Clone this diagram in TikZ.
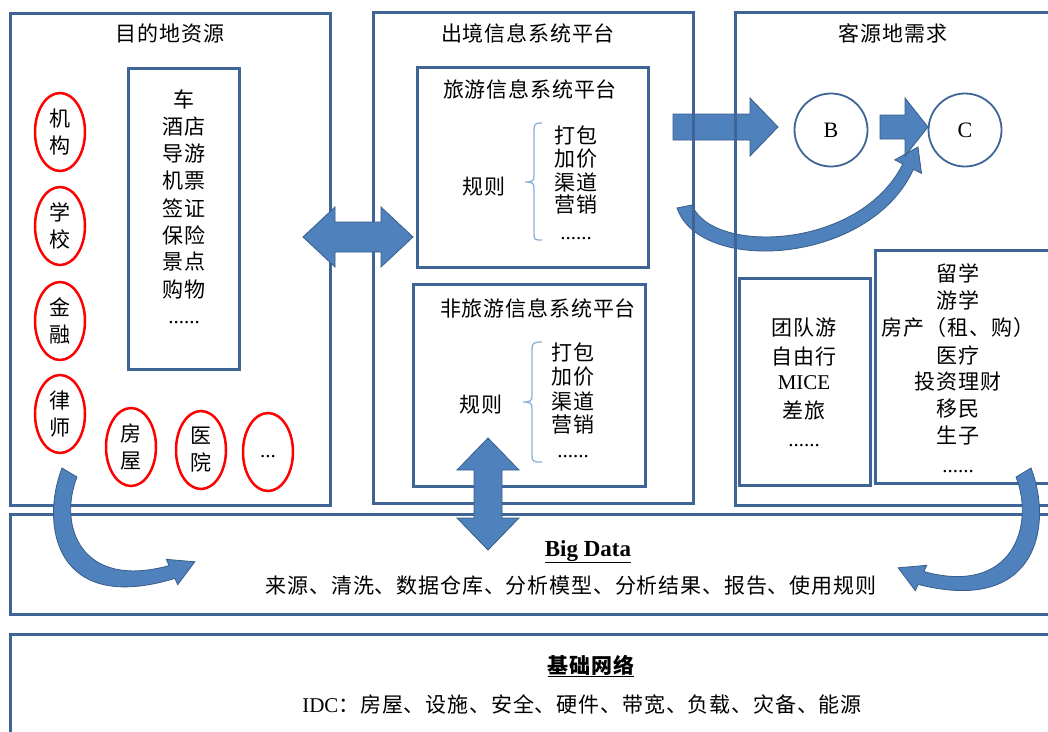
\documentclass[tikz,border=0pt]{standalone}
\usepackage{fontspec}
\setmainfont{Liberation Serif}
\newfontfamily\cjk[LetterSpace=4]{Noto Sans CJK SC}
\usetikzlibrary{shapes.geometric,fit}
\definecolor{boxblue}{RGB}{62,101,150}
\definecolor{arrfill}{RGB}{79,129,189}
\definecolor{arredge}{RGB}{56,93,138}
\definecolor{bracecol}{RGB}{141,176,216}
\newcommand\zhf{\cjk\fontsize{21pt}{27pt}\selectfont}
\newcommand\enf{\rmfamily\fontsize{21pt}{27pt}\selectfont}
\begin{document}
\begin{tikzpicture}[x=1pt,y=-1pt,
  box/.style={draw=boxblue,line width=3pt,inner sep=0pt,fit={#1}},
  tz/.style={font=\zhf,inner sep=0pt},
  en/.style={font=\enf,inner sep=0pt},
  ell/.style={ellipse,draw=red,line width=2.5pt,minimum width=50pt,minimum height=78pt,inner sep=0pt,font=\zhf,align=center},
  arr/.style={fill=arrfill,draw=arredge,line width=0.8pt},
  circ/.style={circle,draw=boxblue,line width=1.8pt,minimum size=73pt,inner sep=0pt,font=\rmfamily\fontsize{22pt}{26pt}\selectfont},
  bracestyle/.style={draw=bracecol,line width=1.3pt}]
\path[use as bounding box] (0,0) rectangle (1048,731);
\fill[white] (0,0) rectangle (1048,731);
\clip (0,0) rectangle (1048,731);

% arrows lying under box lines
\draw[arr] (673,114) -- (750,114) -- (750,98) -- (778,127) -- (750,156) -- (750,140) -- (673,140) -- cycle;
\draw[arr] (677,208) .. controls (700,275) and (870,265) .. (913.4,169.3) -- (921.5,173.4) -- (918,147) -- (894.7,159.9) -- (902.8,163.9) .. controls (860,250) and (712,255) .. (692,205) -- cycle;

% boxes
\node[box={(10,13) (330,505)}] (dest) {};
\node[box={(128,68) (239,369)}] (svc) {};
\node[box={(373,12) (693,503)}] (plat) {};
\node[box={(417,67) (648,267)}] (tour) {};
\node[box={(413,284) (645,486)}] (nontour) {};
\node[box={(735,12) (1070,505)}] (demand) {};
\node[box={(739,278) (870,485)}] (trip) {};
\node[box={(875,250) (1070,483)}] (needs) {};
\node[box={(10,514) (1070,614)}] (bigdata) {};
\node[box={(10,634) (1070,750)}] (net) {};

% left column
\node[tz] (t-dest) at (170,33) {目的地资源};
\foreach \t/\y [count=\i] in {车/99,酒店/127,导游/154,机票/181,签证/208,保险/235,景点/262,购物/290}
  \node[tz] (s\i) at (184,\y) {\t};
\node[en,anchor=base] (sdots) at (184,323) {......};
\node[ell] (e1) at (60,132) {机\\构};
\node[ell] (e2) at (60,226) {学\\校};
\node[ell] (e3) at (60,321) {金\\融};
\node[ell] (e4) at (60,414) {律\\师};
\node[ell] (e5) at (131,447) {房\\屋};
\node[ell] (e6) at (201,450) {医\\院};
\node[ell,font=\enf] (e7) at (268,452) {\strut...};

% middle column
\node[tz] (t-plat) at (528,33) {出境信息系统平台};
\node[tz] (t-tour) at (530,89) {旅游信息系统平台};
\node[tz] (r1) at (484,187) {规则};
\foreach \t/\y [count=\i] in {打包/135,加价/159,渠道/182,营销/205}
  \node[tz] (a\i) at (576,\y) {\t};
\node[en,anchor=base] (adots) at (576,239) {......};
\draw[bracestyle] (542,123) .. controls (535,123) and (534,124) .. (534,130) -- (534,176) .. controls (534,181) and (532,182) .. (525,182) .. controls (532,182) and (534,183) .. (534,188) -- (534,234) .. controls (534,240) and (535,240) .. (542,240);

\node[tz] (t-nontour) at (538,308) {非旅游信息系统平台};
\node[tz] (r2) at (481,405) {规则};
\foreach \t/\y [count=\i] in {打包/352,加价/377,渠道/401,营销/425}
  \node[tz] (b\i) at (573,\y) {\t};
\node[en,anchor=base] (bdots) at (573,457) {......};
\draw[bracestyle] (542,342) .. controls (534,342) and (532,343) .. (532,349) -- (532,396) .. controls (532,401) and (530,402) .. (523,402) .. controls (530,402) and (532,403) .. (532,408) -- (532,456) .. controls (532,462) and (534,462) .. (542,462);

% right column
\node[tz] (t-demand) at (893,33) {客源地需求};
\node[circ] (B) at (831,130) {B};
\node[circ] (C) at (965,130) {C};
\node[tz] (c1) at (804,328) {团队游};
\node[tz] (c2) at (804,357) {自由行};
\node[en] (c3) at (804,383) {MICE};
\node[tz] (c4) at (804,410) {差旅};
\node[en,anchor=base] (cdots) at (804,446) {......};
\foreach \t/\y [count=\i] in {留学/273,游学/300,房产（租、购）/328,医疗/355,投资理财/382,移民/409,生子/436}
  \node[tz] (d\i) at (958,\y) {\t};
\node[en,anchor=base] (ddots) at (958,472) {......};

% big data and network
\node[inner sep=0pt,anchor=base,font=\rmfamily\bfseries\fontsize{23pt}{27pt}\selectfont] (t-big) at (588,556) {\underline{Big Data}};
\node[tz] (t-bigline) at (571,586) {来源、清洗、数据仓库、分析模型、分析结果、报告、使用规则};
\node[tz,anchor=base,font=\zhf\bfseries] (t-net) at (591,673) {\underline{基础网络}};
\node[tz] (t-netline) at (582,705) {{\rmfamily IDC}：房屋、设施、安全、硬件、带宽、负载、灾备、能源};

% block arrows on top
\draw[arr] (303,237) -- (335,207) -- (335,222) -- (381,222) -- (381,207) -- (413,237) -- (381,267) -- (381,252) -- (335,252) -- (335,267) -- cycle;
\draw[arr] (488,438) -- (519,470) -- (502,470) -- (502,518) -- (519,518) -- (488,550) -- (457,518) -- (474,518) -- (474,470) -- (457,470) -- cycle;
\draw[arr] (880,115) -- (905,115) -- (905,98) -- (928,127) -- (905,156) -- (905,139) -- (880,139) -- cycle;
\draw[arr] (62,468) .. controls (40,525) and (55,615) .. (174.9,578.4) -- (177.7,584.7) -- (194.8,561.8) -- (166.3,559.3) -- (169.1,565.6) .. controls (80,590) and (58,525) .. (77,477) -- cycle;
\draw[arr] (1031,468) .. controls (1053,525) and (1038,615) .. (918.1,584.4) -- (915.3,590.7) -- (898.2,567.8) -- (926.7,565.3) -- (923.9,571.6) .. controls (1013,596) and (1035,525) .. (1016,477) -- cycle;
\end{tikzpicture}
\end{document}
